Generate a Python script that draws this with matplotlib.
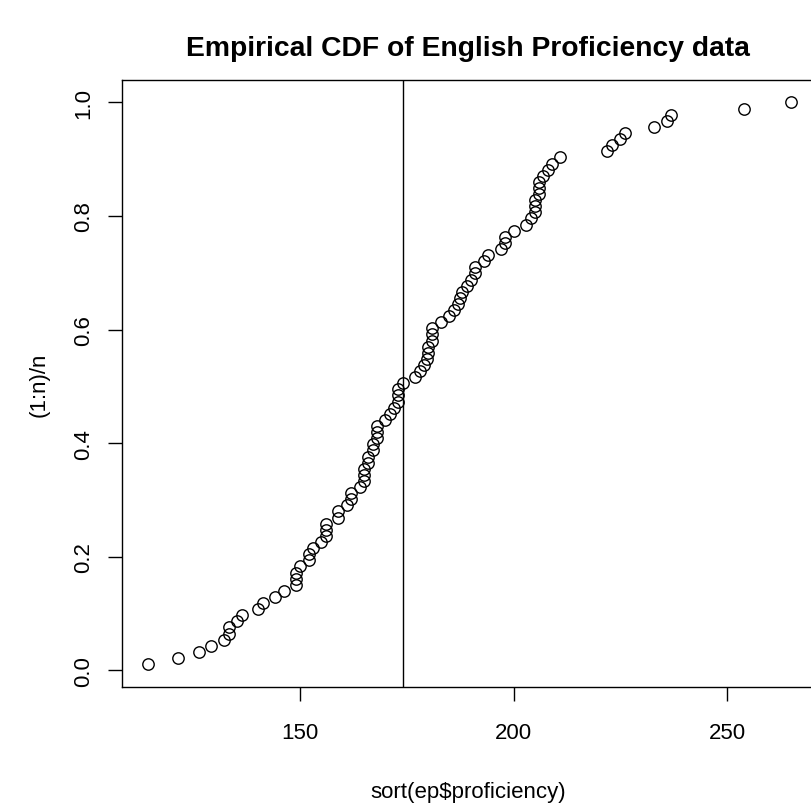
import numpy as np
import matplotlib
matplotlib.use("Agg")
import matplotlib.pyplot as plt

# sorted English proficiency scores
proficiency = [
    114.5, 121.4, 126.3, 129.2, 132.3, 133.3, 133.3, 135.2, 136.3, 140.2,
    141.3, 144.2, 146.3, 149, 149, 149, 150, 152, 152, 153,
    155, 156, 156, 156, 159, 159, 161, 162, 162, 164,
    165, 165, 165, 166, 166, 167, 167, 168, 168, 168,
    170, 171, 172, 173, 173, 173, 174, 177, 178, 179,
    179.7, 180, 180, 181, 181, 181, 183, 185, 186, 187,
    187.5, 188, 189, 190, 191, 191, 193, 194, 197, 198,
    198, 200, 203, 204, 205, 205, 205, 206, 206, 206,
    207, 208, 209, 211, 222, 223, 225, 226, 233, 236,
    237, 254, 265,
]

x = np.sort(np.array(proficiency))
n = len(x)
y = np.arange(1, n + 1) / n

plt.rcParams["font.family"] = ["Liberation Sans", "DejaVu Sans"]

fig = plt.figure(figsize=(8.12, 8.04), dpi=100)
ax = fig.add_axes([122 / 812, 116 / 804, 692.5 / 812, 607 / 804])

ax.plot(x, y, "o", mfc="none", mec="black", ms=8.2, mew=1.0)
ax.axvline(np.median(x), color="black", lw=1.0)

ax.set_xlim(108.3, 270.5)
ax.set_ylim(-0.0296, 1.0396)
ax.set_xticks([150, 200, 250])
ax.set_yticks([0.0, 0.2, 0.4, 0.6, 0.8, 1.0])
ax.set_yticklabels(["0.0", "0.2", "0.4", "0.6", "0.8", "1.0"], rotation=90, va="center")
ax.tick_params(direction="out", length=10, width=1.0, labelsize=16)
ax.tick_params(axis="x", pad=15.5)
ax.tick_params(axis="y", pad=10)

for s in ax.spines.values():
    s.set_linewidth(1.0)

ax.set_title("Empirical CDF of English Proficiency data", fontsize=20.3,
             fontweight="bold", pad=18)
ax.set_xlabel("sort(ep$proficiency)", fontsize=16, labelpad=27)
ax.set_ylabel("(1:n)/n", fontsize=16, labelpad=17)

fig.savefig("out.png", dpi=100)
